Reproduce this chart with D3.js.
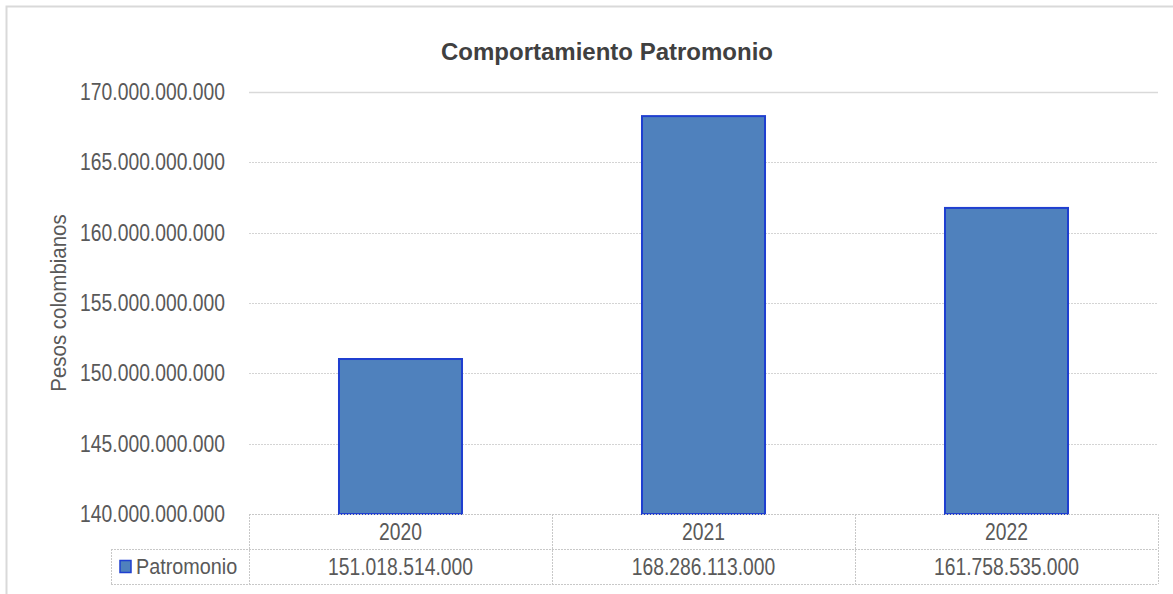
<!DOCTYPE html>
<html>
    <head>
        <meta charset="utf-8"/>
        <script src="https://cdnjs.cloudflare.com/ajax/libs/d3/7.8.5/d3.min.js"></script>
        <style>
            body { margin: 0; background: #fff; }
            text { font-family: "Liberation Sans Narrow", "Arial Narrow", "Liberation Sans", sans-serif; }
        </style>
    </head>
    <body>
        <script>
            // chart data
            const years = ["2020", "2021", "2022"];
            const patrimonio = [151018514000, 168286113000, 161758535000];
            const yTicks = [140e9, 145e9, 150e9, 155e9, 160e9, 165e9, 170e9];
            const seriesName = "Patromonio";

            const width = 1173, height = 594;
            const margin = {top: 92, right: 15, bottom: 80, left: 249};
            const narrow = 0.84; // squeeze text to look like Arial Narrow

            const fmt = v => d3.format(",")(v).replace(/,/g, ".");

            const svg = d3.select("body").append("svg")
                .attr("width", width)
                .attr("height", height);

            // chart frame
            svg.append("path")
                .attr("d", `M6.5,${height} V6.5 H${width}`)
                .attr("fill", "none")
                .attr("stroke", "#d9d9d9")
                .attr("stroke-width", 2);

            const x = d3.scaleBand()
                .domain(years)
                .range([margin.left, width - margin.right])
                .paddingInner(0.594)
                .paddingOuter(0.297);

            const y = d3.scaleLinear()
                .domain([140e9, 170e9])
                .range([height - margin.bottom, margin.top]);

            // gridlines
            svg.append("g")
                .selectAll("line")
                .data(yTicks.slice(1))
                .join("line")
                .attr("x1", margin.left)
                .attr("x2", width - margin.right)
                .attr("y1", d => Math.round(y(d)) + 0.5)
                .attr("y2", d => Math.round(y(d)) + 0.5)
                .attr("stroke", d => d === 170e9 ? "#d9d9d9" : "#d4d4d4")
                .attr("stroke-dasharray", d => d === 170e9 ? null : "2,1")
                .attr("stroke-width", d => d === 170e9 ? 1.5 : 1);

            // y axis labels
            const yAxis = g => g
                .attr("transform", `translate(${margin.left - 24},0)`)
                .call(d3.axisLeft(y).tickValues(yTicks).tickFormat(fmt).tickSize(0).tickPadding(0))
                .call(g => g.select(".domain").remove())
                .call(g => g.selectAll("text")
                    .attr("font-size", 23)
                    .attr("font-family", null)
                    .attr("fill", "#595959")
                    .attr("dy", "0.32em")
                    .attr("transform", `scale(${narrow},1)`));
            svg.append("g").call(yAxis);

            // bars
            svg.append("g")
                .selectAll("rect")
                .data(patrimonio)
                .join("rect")
                .attr("x", (d, i) => x(years[i]))
                .attr("y", d => y(d))
                .attr("width", x.bandwidth())
                .attr("height", d => y(140e9) - y(d))
                .attr("fill", "#4f81bd")
                .attr("stroke", "#1f3fd0")
                .attr("stroke-width", 2);

            // data table
            const rowTop = height - margin.bottom;
            const rowH = 35;
            const tableLeft = 111;
            const tbl = svg.append("g")
                .attr("stroke", "#c8c8c8")
                .attr("stroke-dasharray", "2,1")
                .attr("fill", "none");
            const xs = [margin.left].concat(years.map(d => x(d) - x.step() * x.paddingInner() / 2 + x.step()));
            xs[xs.length - 1] = width - margin.right;
            tbl.append("line").attr("x1", margin.left).attr("x2", width - margin.right)
                .attr("y1", rowTop + 0.5).attr("y2", rowTop + 0.5);
            tbl.append("line").attr("x1", tableLeft).attr("x2", width - margin.right)
                .attr("y1", rowTop + rowH + 0.5).attr("y2", rowTop + rowH + 0.5);
            tbl.append("line").attr("x1", tableLeft).attr("x2", width - margin.right)
                .attr("y1", rowTop + 2 * rowH + 0.5).attr("y2", rowTop + 2 * rowH + 0.5);
            tbl.selectAll("line.v")
                .data(xs)
                .join("line")
                .attr("class", "v")
                .attr("x1", d => Math.round(d) + 0.5).attr("x2", d => Math.round(d) + 0.5)
                .attr("y1", rowTop).attr("y2", rowTop + 2 * rowH);
            tbl.append("line").attr("x1", tableLeft + 0.5).attr("x2", tableLeft + 0.5)
                .attr("y1", rowTop + rowH).attr("y2", rowTop + 2 * rowH);

            svg.append("g")
                .selectAll("text")
                .data(years)
                .join("text")
                .attr("transform", d => `translate(${x(d) + x.bandwidth() / 2},${rowTop + rowH / 2}) scale(${narrow},1)`)
                .attr("dy", "0.35em")
                .attr("text-anchor", "middle")
                .attr("font-size", 23)
                .attr("fill", "#595959")
                .text(d => d);

            svg.append("g")
                .selectAll("text")
                .data(patrimonio)
                .join("text")
                .attr("transform", (d, i) => `translate(${x(years[i]) + x.bandwidth() / 2},${rowTop + rowH * 1.5}) scale(${narrow},1)`)
                .attr("dy", "0.35em")
                .attr("text-anchor", "middle")
                .attr("font-size", 23)
                .attr("fill", "#595959")
                .text(d => fmt(d));

            // legend key in table
            svg.append("rect")
                .attr("x", 120).attr("y", rowTop + rowH * 1.5 - 6)
                .attr("width", 11).attr("height", 12)
                .attr("fill", "#4f81bd")
                .attr("stroke", "#1f3fd0")
                .attr("stroke-width", 1.5);
            svg.append("text")
                .attr("transform", `translate(136,${rowTop + rowH * 1.5}) scale(0.9,1)`)
                .attr("dy", "0.35em")
                .attr("font-size", 22)
                .attr("fill", "#595959")
                .text(seriesName);

            // axis title
            svg.append("text")
                .attr("transform", `translate(66,${(y(140e9) + y(170e9)) / 2}) rotate(-90) scale(0.93,1)`)
                .attr("text-anchor", "middle")
                .attr("font-size", 22)
                .attr("fill", "#595959")
                .text("Pesos colombianos");

            // title
            svg.append("text")
                .attr("x", 607)
                .attr("y", 52)
                .attr("dy", "0.35em")
                .attr("text-anchor", "middle")
                .attr("font-size", 24)
                .attr("font-weight", "bold")
                .attr("fill", "#404040")
                .text("Comportamiento Patromonio");
        </script>
    </body>
</html>
